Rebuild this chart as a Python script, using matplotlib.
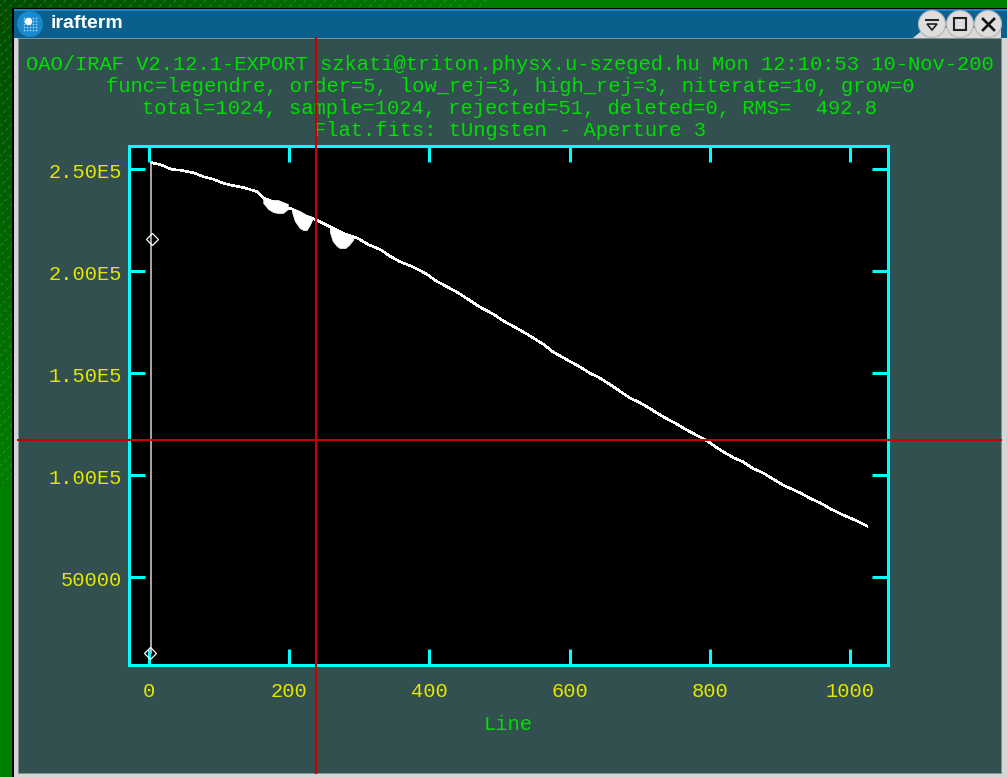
# IMPORTING LIBRARIES
import numpy as np
import matplotlib
matplotlib.use('Agg')
import matplotlib.pyplot as plt
from matplotlib.patches import Rectangle, Circle, Polygon
from matplotlib.collections import LineCollection
from matplotlib.transforms import ScaledTranslation

# DATA
line_x = [4, 18, 32, 47, 63, 77, 91, 104, 116, 135, 154, 163, 172, 184, 198, 204, 218, 239,
          258, 277, 297, 313, 330, 344, 358, 377, 396, 410, 425, 439, 453, 472, 491, 505,
          519, 540, 562, 576, 595, 615, 629, 643, 655, 667, 686, 698, 710, 733, 750, 767,
          796, 808, 819, 833, 847, 861, 876, 890, 904, 929, 943, 957, 973, 990, 1007, 1024]
line_y = [253100, 251900, 249850, 249300, 248200, 246300, 245100, 243300, 242150, 240900, 238900,
          235800, 234600, 232900, 230900, 230400, 227600, 225000,
          221700, 218500, 216200, 212900, 210500, 207200, 204550, 201900, 198500, 195000, 192300,
          189700, 186600, 182300, 178900, 175600, 173000, 168900, 164200, 160400, 156700, 152900,
          149900, 147550, 144900, 142150, 137750, 135800, 133500, 128600, 125500, 122050,
          116800, 113800, 111400, 108600, 106500, 103300, 101000, 98000, 95100, 91200, 88500,
          86400, 83200, 80400, 77900, 75000]

# rejected dips under the curve
dip1_x = [163, 170, 177, 184, 191, 198]
dip1_top = [235300, 235300, 234800, 234800, 233800, 232850]
dip1_low = [233330, 230390, 228920, 228430, 228430, 230390]
dip2_x = [204, 208, 215, 220, 225, 230, 233]
dip2_top = [230880, 230390, 229410, 228430, 227450, 226960, 226470]
dip2_low = [228920, 224510, 221080, 220100, 220100, 223040, 225490]
dip3_x = [258, 262, 268, 272, 280, 285, 291]
dip3_top = [221570, 220590, 219610, 219120, 218140, 217150, 216670]
dip3_low = [219120, 214710, 212250, 211270, 211270, 212740, 215200]

rise_x = [3, 3]
rise_y = [12700, 253100]
reject_x = [4, 2]
reject_y = [215700, 12700]

x_ticks = [0, 200, 400, 600, 800, 1000]
y_ticks = [50000, 100000, 150000, 200000, 250000]
y_labels = ['50000', '1.00E5', '1.50E5', '2.00E5', '2.50E5']
header = ['OAO/IRAF V2.12.1-EXPORT szkati@triton.physx.u-szeged.hu Mon 12:10:53 10-Nov-200',
          'func=legendre, order=5, low_rej=3, high_rej=3, niterate=10, grow=0',
          'total=1024, sample=1024, rejected=51, deleted=0, RMS=  492.8',
          'Flat.fits: tUngsten - Aperture 3']

W, H = 1007, 777
MONO = 'Liberation Mono'
GREEN = '#00e000'
YELLOW = '#e6e600'
CYAN = '#00ffff'
RED = '#c80000'
FS = 14.67

fig = plt.figure(figsize=(W / 100, H / 100), dpi=100)

# Window and desktop, in pixel coordinates
bg = fig.add_axes([0, 0, 1, 1])
bg.set_xlim(0, W)
bg.set_ylim(H, 0)
bg.axis('off')

xx, yy = np.meshgrid(np.linspace(0, 1, 64), np.linspace(0, 1, 64))
ramp = np.clip((xx * W + yy * H) / 500, 0, 1)
desk = np.zeros((64, 64, 3))
desk[..., 1] = 0.3 + 0.2 * ramp
bg.imshow(desk, extent=[0, W, H, 0], aspect='auto', zorder=0)
hatch = [[(c, 0), (0, c)] for c in range(6, 490, 10)]
bg.add_collection(LineCollection(hatch, colors='#5fa55f', linewidths=0.5,
                                 linestyles=(0, (5, 4)), alpha=0.6, zorder=1))

bg.add_patch(Rectangle((12, 8), W - 12, H - 8, fc='black', ec='none', zorder=2))
bg.add_patch(Rectangle((14, 10), W - 14, H - 10, fc='#d6d6d6', ec='none', zorder=2))
bg.add_patch(Rectangle((14, 9), W - 14, 29, fc='#0b5f8c', ec='none', zorder=3))
bg.add_patch(Rectangle((14, 9), W - 14, 2, fc='#1f84c4', ec='none', zorder=3))
bg.add_patch(Rectangle((18, 38), 983, 735, fc='#325050', ec='#7f9090', lw=0.7, zorder=3))

# title bar
bg.add_patch(Circle((30, 24), 13, fc='#1a8ad0', ec='none', zorder=4))
dots_x, dots_y = np.meshgrid(np.arange(24, 38, 3), np.arange(18, 32, 3))
bg.scatter(dots_x, dots_y, s=1.5, c='#a8d4ef', linewidths=0, zorder=5)
bg.scatter([28], [21], s=28, c='white', linewidths=0, zorder=5)
bg.text(51, 23, 'irafterm', color='white', fontsize=14, fontweight='bold',
        family='Liberation Sans', va='center', ha='left', zorder=5)

bg.add_patch(Polygon([(913, 38), (925, 28), (1001, 28), (1001, 38)], fc='#d8d8d8', ec='none', zorder=4))
for cx in [932, 960, 988]:
    bg.add_patch(Circle((cx, 24), 13.5, fc='#dedede', ec='#b5b5b5', lw=0.8, zorder=5))
bg.add_patch(Polygon([(927, 24), (937, 24), (932, 30)], fc='none', ec='#222222', lw=1.2, zorder=6))
bg.plot([926, 938], [20, 20], color='#222222', lw=1.4, zorder=6)
bg.add_patch(Rectangle((954, 18), 12, 12, fc='none', ec='#222222', lw=1.5, zorder=6))
bg.plot([983, 994], [19, 30], color='#111111', lw=1.9, zorder=6)
bg.plot([983, 994], [30, 19], color='#111111', lw=1.9, zorder=6)

# header lines
for text, ypix in zip(header, [64, 87, 108, 131]):
    bg.text(510, ypix, text, color=GREEN, family=MONO, fontsize=FS, ha='center', va='center', zorder=5)
bg.text(508, 724, 'Line', color=GREEN, family=MONO, fontsize=FS, ha='center', va='center', zorder=5)

# The plot itself
ax = fig.add_axes([129 / W, 1 - 665 / H, 759 / W, 519 / H], facecolor='black')
ax.plot(rise_x, rise_y, color='#c4c4c4', lw=1.2, zorder=2)
ax.plot(line_x, line_y, color='white', lw=1.1, antialiased=False, zorder=3)
for dx, dtop, dlow in [(dip1_x, dip1_top, dip1_low), (dip2_x, dip2_top, dip2_low), (dip3_x, dip3_top, dip3_low)]:
    ax.fill_between(dx, dlow, dtop, color='white', lw=0.5, zorder=3)
ax.plot(reject_x, reject_y, 'D', mfc='none', mec='white', ms=6, mew=0.9, zorder=4)

ax.set_xlim(-28.5, 1054)
ax.set_ylim(6860, 261270)
ax.set_xticks(x_ticks)
ax.set_yticks(y_ticks)
ax.set_yticklabels(y_labels)
ax.tick_params(axis='both', direction='in', length=11.5, width=2.2, color=CYAN,
               top=True, right=True, labelcolor=YELLOW, labelsize=FS)
ax.tick_params(axis='x', pad=12.5)
ax.tick_params(axis='y', pad=5)
for lab in ax.get_xticklabels() + ax.get_yticklabels():
    lab.set_family(MONO)
for lab in ax.get_yticklabels():
    lab.set_transform(lab.get_transform() + ScaledTranslation(0, -2 / 100, fig.dpi_scale_trans))
for side in ax.spines.values():
    side.set_color(CYAN)
    side.set_linewidth(2.2)

# Crosshair cursor on top of everything
cursor = fig.add_axes([0, 0, 1, 1], facecolor='none')
cursor.set_xlim(0, W)
cursor.set_ylim(H, 0)
cursor.axis('off')
cursor.plot([316, 316], [38, 773], color=RED, lw=1.5)
cursor.plot([18, 1001], [440, 440], color=RED, lw=1.5)

fig.savefig('out.png', dpi=100)
